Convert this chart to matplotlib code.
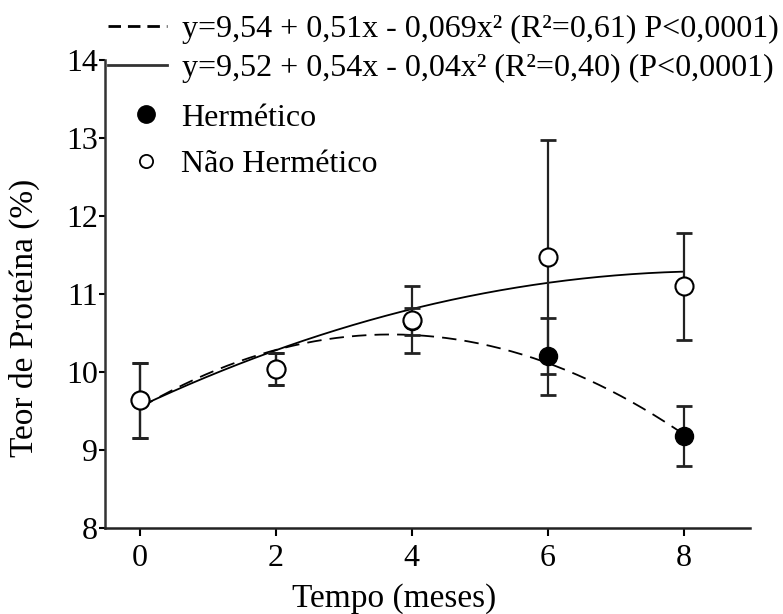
import numpy as np
import matplotlib.pyplot as plt
from matplotlib.lines import Line2D

plt.rcParams['font.family'] = ['Liberation Serif', 'DejaVu Serif']
plt.rcParams['mathtext.fontset'] = 'stix'

# dados
meses = [0, 2, 4, 6, 8]
herm = [9.64, 10.04, 10.65, 10.20, 9.18]
herm_err = [0.48, 0.20, 0.17, 0.49, 0.38]
nherm = [9.64, 10.04, 10.67, 11.47, 11.10]
nherm_err = [0.48, 0.20, 0.43, 1.50, 0.69]

# curvas ajustadas (a + b x + c x^2), como aparecem desenhadas
coef_herm = [9.54, 0.51, -0.069]
coef_nherm = [9.56, 0.408, -0.024]
eq_herm = 'y=9,54 + 0,51x - 0,069x² (R²=0,61) P<0,0001)'
eq_nherm = 'y=9,52 + 0,54x - 0,04x² (R²=0,40) (P<0,0001)'

fs = 23
fs_leg = 23
fs_lab = 24

fig = plt.figure(figsize=(7.83, 6.14), dpi=100)
ax = fig.add_axes([0.134, 0.140, 0.824, 0.762])

xx = np.linspace(0, 8, 200)
yh = coef_herm[0] + coef_herm[1] * xx + coef_herm[2] * xx ** 2
yn = coef_nherm[0] + coef_nherm[1] * xx + coef_nherm[2] * xx ** 2
ax.plot(xx, yh, color='black', lw=1.3, ls=(0, (8, 4.5)), zorder=2)
ax.plot(xx, yn, color='black', lw=1.3, zorder=2)

ax.errorbar(meses, herm, yerr=herm_err, fmt='none', ecolor='#222222', elinewidth=1.6,
            capsize=5.5, capthick=2, zorder=3)
ax.errorbar(meses, nherm, yerr=nherm_err, fmt='none', ecolor='#222222', elinewidth=1.6,
            capsize=5.5, capthick=2, zorder=3)
ax.plot(meses, herm, 'o', ms=13, mfc='black', mec='black', zorder=4)
ax.plot(meses, nherm, 'o', ms=13, mfc='white', mec='black', mew=1.5, zorder=5)

ax.set_xlim(-0.515, 8.98)
ax.set_ylim(8, 14)
ax.set_xticks([0, 2, 4, 6, 8])
ax.set_yticks([8, 9, 10, 11, 12, 13, 14])
ax.spines['top'].set_visible(False)
ax.spines['right'].set_visible(False)
ax.spines['left'].set_linewidth(1.8)
ax.spines['bottom'].set_linewidth(1.8)
ax.spines['left'].set_color('#333333')
ax.spines['bottom'].set_color('#222222')
ax.tick_params(axis='x', direction='out', length=5.5, width=1.5, pad=6, labelsize=fs)
ax.tick_params(axis='y', direction='out', length=4, width=1.5, pad=1, labelsize=fs)
ax.set_xlabel('Tempo (meses)', fontsize=fs_lab)
ax.set_ylabel('Teor de Proteína (%)', fontsize=fs_lab)
ax.xaxis.set_label_coords(0.448, -0.118)
ax.yaxis.set_label_coords(-0.10, 0.449)

h_lines = [Line2D([], [], color='black', lw=2, ls=(0, (4.5, 2.5))),
           Line2D([], [], color='#333333', lw=2)]
leg1 = fig.legend(h_lines, [eq_herm, eq_nherm], loc='upper left',
                  bbox_to_anchor=(0.138, 0.976), frameon=False, fontsize=fs_leg,
                  handlelength=1.85, handletextpad=0.45, labelspacing=0.3,
                  borderaxespad=0, borderpad=0)
h_pts = [Line2D([], [], ls='none', marker='o', ms=12.5, mfc='black', mec='black'),
         Line2D([], [], ls='none', marker='o', ms=9.5, mfc='white', mec='black', mew=1.3)]
leg2 = fig.legend(h_pts, ['Hermético', 'Não Hermético'], loc='upper left',
                  bbox_to_anchor=(0.166, 0.832), frameon=False, fontsize=fs_leg,
                  handlelength=1.0, handletextpad=0.6, labelspacing=0.55,
                  borderaxespad=0, borderpad=0)

fig.savefig('out.png', dpi=100)
